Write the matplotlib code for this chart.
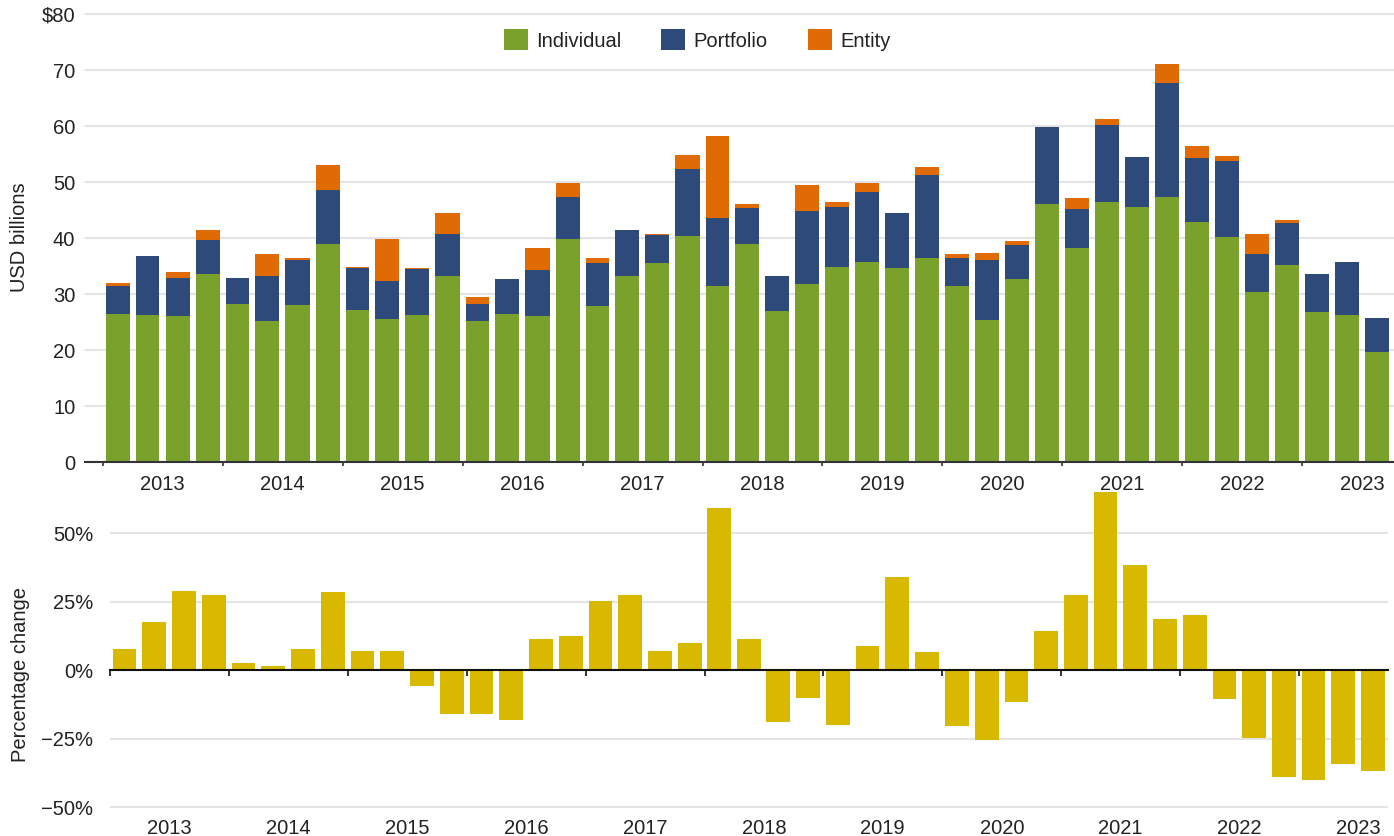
import numpy as np
import pandas as pd
import matplotlib
matplotlib.use("Agg")
import matplotlib.pyplot as plt
import matplotlib.dates as mdates
from matplotlib.ticker import FixedLocator, NullFormatter, FuncFormatter

plt.rcParams['font.family'] = ['Liberation Sans', 'DejaVu Sans']

# quarterly data, 2013Q1 - 2023Q3
quarters = pd.period_range("2013Q1", "2023Q3", freq="Q")
years = list(range(2013, 2024))

individual = [26.4, 26.2, 26.0, 33.5, 28.3, 25.1, 28.0, 38.9, 27.1, 25.5, 26.2, 33.2,
              25.1, 26.5, 26.0, 39.9, 27.8, 33.3, 35.5, 40.3, 31.4, 38.9, 26.9, 31.7,
              34.8, 35.8, 34.6, 36.4, 31.5, 25.3, 32.6, 46.0, 38.2, 46.4, 45.5, 47.4,
              42.8, 40.1, 30.3, 35.1, 26.7, 26.2, 19.6]
portfolio = [5.1, 10.5, 6.8, 6.1, 4.5, 8.1, 8.0, 9.6, 7.5, 6.8, 8.2, 7.6,
             3.2, 6.1, 8.2, 7.5, 7.7, 8.2, 5.0, 12.0, 12.1, 6.4, 6.4, 13.2,
             10.7, 12.4, 9.8, 14.8, 5.0, 10.7, 6.1, 13.8, 6.9, 13.7, 8.9, 20.2,
             11.4, 13.6, 6.8, 7.5, 6.8, 9.5, 6.1]
entity = [0.4, 0.0, 1.2, 1.8, 0.0, 3.9, 0.4, 4.5, 0.3, 7.5, 0.2, 3.6,
          1.1, 0.0, 4.1, 2.5, 1.0, 0.0, 0.3, 2.5, 14.7, 0.7, 0.0, 4.5,
          1.0, 1.7, 0.0, 1.4, 0.6, 1.3, 0.7, 0.1, 2.0, 1.1, 0.0, 3.4,
          2.3, 0.9, 3.7, 0.6, 0.0, 0.0, 0.0]
pct_change = [7.7, 17.6, 28.9, 27.4, 2.6, 1.5, 7.7, 28.5, 7.0, 7.0, -5.9, -16.1,
              -16.1, -18.3, 11.3, 12.4, 25.2, 27.4, 7.0, 9.9, 59.3, 11.3, -19.0, -10.2,
              -20.1, 8.8, 34.0, 6.6, -20.5, -25.6, -11.7, 14.3, 27.4, 64.8, 38.4, 18.7,
              20.1, -10.6, -24.9, -39.1, -40.2, -34.4, -37.0]

labels = ["Individual", "Portfolio", "Entity"]
colors = ["#7ba12d", "#2e4a7b", "#e06a04"]
bar_color = "#d9b800"
grid_color = "#e4e4e4"
text_color = "#222222"
fs = 14.5

starts = mdates.date2num(quarters.start_time)
ends = mdates.date2num((quarters + 1).start_time)
xc = (starts + ends) / 2
widths = 0.8 * (ends - starts)

year_edges = mdates.date2num(pd.to_datetime([f"{y}-01-01" for y in years]))
year_mid = mdates.date2num(pd.to_datetime([f"{y}-07-02" for y in years]))

W, H = 1394, 836
fig = plt.figure(figsize=(W / 100, H / 100), dpi=100)

# ---------- top panel ----------
ax1 = fig.add_axes([85 / W, 1 - 462 / H, (W - 85) / W, (462 - 12) / H])
bottom = np.zeros(len(individual))
for vals, lab, col in zip([individual, portfolio, entity], labels, colors):
    vals = np.array(vals)
    ax1.bar(xc, vals, width=widths, bottom=bottom, color=col, label=lab, zorder=2)
    bottom += vals

ax1.set_ylim(0, 80.36)
ax1.set_xlim(mdates.date2num(pd.Timestamp("2012-11-07")), mdates.date2num(pd.Timestamp("2023-10-08")))
ax1.set_yticks(range(0, 81, 10))
ax1.yaxis.set_major_formatter(FuncFormatter(lambda v, p: f"${v:.0f}" if v == 80 else f"{v:.0f}"))
ax1.yaxis.grid(True, color=grid_color, lw=1.5)
ax1.set_axisbelow(True)
for s in ["top", "right", "left"]:
    ax1.spines[s].set_visible(False)
ax1.spines["bottom"].set_color("#333333")
ax1.spines["bottom"].set_linewidth(1.5)
ax1.spines["bottom"].set_zorder(3)
ax1.tick_params(axis="y", length=0, pad=7, labelsize=fs, labelcolor=text_color)
ax1.xaxis.set_major_locator(FixedLocator(year_edges))
ax1.xaxis.set_major_formatter(NullFormatter())
ax1.xaxis.set_minor_locator(FixedLocator(year_mid))
ax1.set_xticklabels([str(y) for y in years], minor=True)
ax1.tick_params(axis="x", which="major", length=3, width=1.2, color="#333333")
ax1.tick_params(axis="x", which="minor", length=0, pad=9, labelsize=fs, labelcolor=text_color)
# 2023 label centred on visible part
for lbl in ax1.xaxis.get_minor_ticks()[-1:]:
    pass

fig.text(20 / W, 1 - 237 / H, "USD billions", rotation=90, ha="center", va="center",
         fontsize=fs, color=text_color)

fig.legend(loc="center", bbox_to_anchor=(0.5, 1 - 40 / H), ncol=3, frameon=False,
           fontsize=fs, handlelength=1.2, handleheight=1.2, handletextpad=0.4,
           columnspacing=2.0, labelcolor=text_color)

# ---------- bottom panel ----------
ax2 = fig.add_axes([110 / W, 1 - 809 / H, (1388 - 110) / W, (809 - 490) / H])
ax2.bar(xc, pct_change, width=widths, color=bar_color, zorder=2)
ax2.set_ylim(-50.7, 65.7)
ax2.set_xlim(mdates.date2num(pd.Timestamp("2013-01-01")), mdates.date2num(pd.Timestamp("2023-10-01")))
ax2.set_yticks([-50, -25, 0, 25, 50])
ax2.yaxis.set_major_formatter(FuncFormatter(lambda v, p: f"{v:.0f}%".replace("-", "\u2212")))
ax2.yaxis.grid(True, color=grid_color, lw=1.5)
ax2.set_axisbelow(True)
for s in ["top", "right", "left"]:
    ax2.spines[s].set_visible(False)
ax2.spines["bottom"].set_position(("data", 0))
ax2.spines["bottom"].set_color("#111111")
ax2.spines["bottom"].set_linewidth(1.5)
ax2.spines["bottom"].set_zorder(3)
ax2.tick_params(axis="y", length=0, pad=12, labelsize=fs, labelcolor=text_color)
ax2.xaxis.set_major_locator(FixedLocator(year_edges))
ax2.xaxis.set_major_formatter(NullFormatter())
ax2.tick_params(axis="x", which="major", length=4, width=1.2, color="#111111")

sec = ax2.secondary_xaxis("bottom")
sec.spines["bottom"].set_visible(False)
sec.set_xticks(year_mid)
sec.set_xticklabels([str(y) for y in years])
sec.tick_params(axis="x", length=0, pad=7, labelsize=fs, labelcolor=text_color)

fig.text(21 / W, 1 - 674 / H, "Percentage change", rotation=90, ha="center", va="center",
         fontsize=fs, color=text_color)

fig.savefig("out.png", dpi=100, facecolor="white")
